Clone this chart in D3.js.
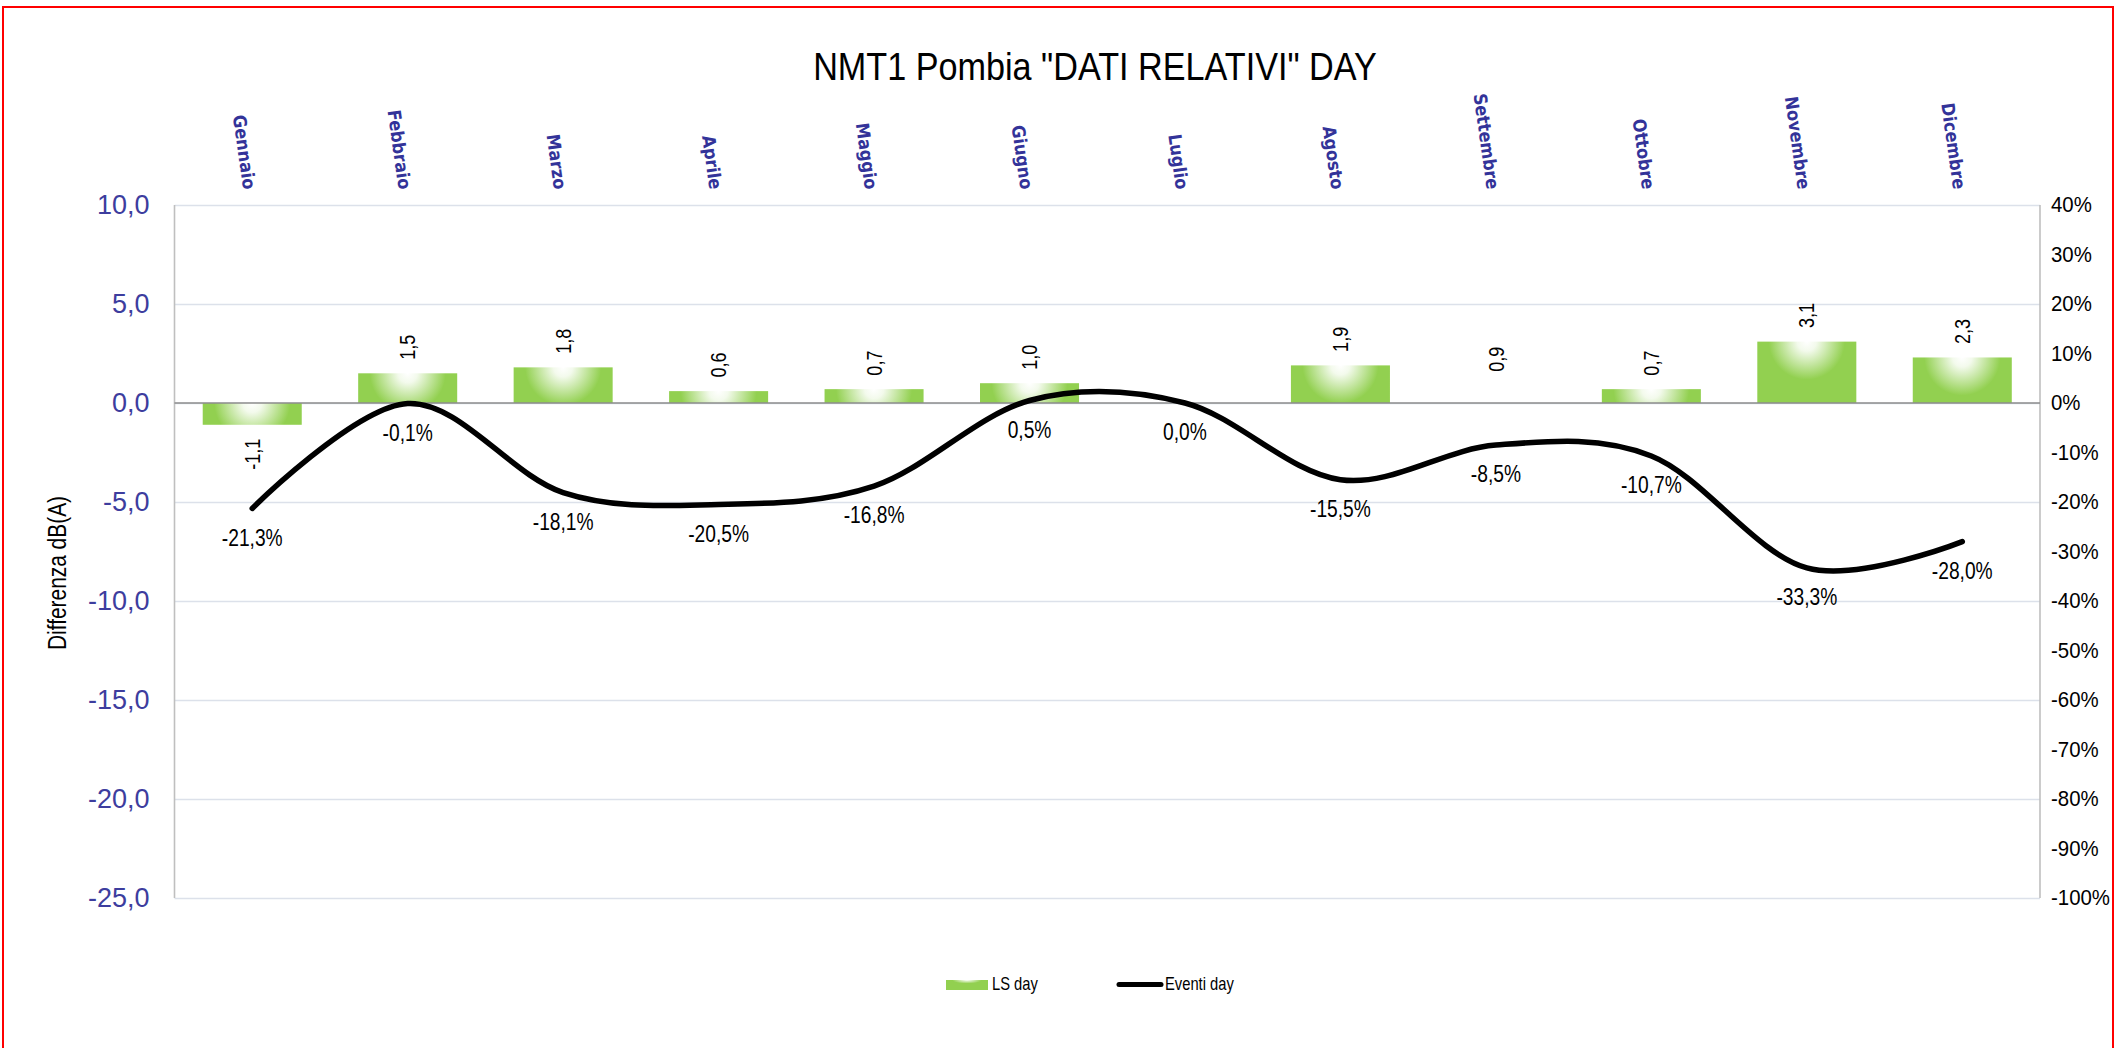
<!DOCTYPE html>
<html>
<head>
<meta charset="utf-8">
<script src="https://cdn.jsdelivr.net/npm/d3@7/dist/d3.min.js"></script>
<style>
  html, body { margin: 0; padding: 0; background: #ffffff; }
  svg { display: block; }
</style>
</head>
<body>
<svg id="chart" width="2116" height="1048"></svg>
<script>
// ---------------- data ----------------
const months = ["Gennaio", "Febbraio", "Marzo", "Aprile", "Maggio", "Giugno",
                "Luglio", "Agosto", "Settembre", "Ottobre", "Novembre", "Dicembre"];
const lsDay = [-1.1, 1.5, 1.8, 0.6, 0.7, 1.0, null, 1.9, 0.9, 0.7, 3.1, 2.3];
const eventiDay = [-21.3, -0.1, -18.1, -20.5, -16.8, 0.5, 0.0, -15.5, -8.5, -10.7, -33.3, -28.0];
const leftTicks = [10, 5, 0, -5, -10, -15, -20, -25];
const rightTicks = [40, 30, 20, 10, 0, -10, -20, -30, -40, -50, -60, -70, -80, -90, -100];
const barsWithoutFill = ["Settembre"]; // label shown, bar not drawn in the original
const titleText = 'NMT1 Pombia "DATI RELATIVI" DAY';
const yAxisTitle = "Differenza dB(A)";
const seriesNames = ["LS day", "Eventi day"];

// ---------------- setup ----------------
const W = 2116, H = 1048;
const plot = { left: 174.5, right: 2040, top: 205, bottom: 898 };
const svg = d3.select("#chart");
const it = d3.formatLocale({ decimal: ",", thousands: ".", grouping: [3], currency: ["€", ""], minus: "-" });
const f1 = it.format(".1f");
const f0 = it.format(".0f");
const SANS = '"Liberation Sans", Arial, sans-serif';
const BOLD = '"DejaVu Sans", Verdana, sans-serif';
const GREEN = "#92D050";
const NX = 0.82; // horizontal condensing of the narrow face

const x = d3.scaleBand().domain(months).range([plot.left, plot.right])
  .paddingInner(0.363).paddingOuter(0.1815);
const yL = d3.scaleLinear().domain([-25, 10]).range([plot.bottom, plot.top]);
const yR = d3.scaleLinear().domain([-100, 40]).range([plot.bottom, plot.top]);
const cx = m => x(m) + x.bandwidth() / 2;

// narrow text helper: places text at (px,py), optional rotation, condensed horizontally
function ntext(parent, px, py, str, opts) {
  const o = Object.assign({ rot: 0, size: 22, anchor: "start", fill: "#000", sx: NX, baseline: null, family: SANS, weight: null }, opts || {});
  const t = parent.append("text")
    .attr("transform", `translate(${px},${py}) rotate(${o.rot}) scale(${o.sx},1)`)
    .attr("text-anchor", o.anchor).attr("font-family", o.family).attr("font-size", o.size)
    .attr("fill", o.fill).text(str);
  if (o.baseline) t.attr("dominant-baseline", o.baseline);
  if (o.weight) t.attr("font-weight", o.weight);
  return t;
}

// outer red frame
svg.append("rect").attr("x", 3).attr("y", 7).attr("width", W - 6).attr("height", H + 10)
  .attr("fill", "none").attr("stroke", "#FF0000").attr("stroke-width", 2);

// title
ntext(svg, 1095, 80, titleText, { size: 38, anchor: "middle", sx: 0.9 });

// gridlines
const grid = svg.append("g").attr("transform", `translate(${plot.left},0)`)
  .call(d3.axisLeft(yL).tickValues(leftTicks).tickSize(-(plot.right - plot.left)).tickFormat(""));
grid.select(".domain").remove();
grid.selectAll("line").attr("stroke", "#DCE1EA").attr("stroke-width", 1.6);

// vertical axis lines
svg.append("line").attr("x1", plot.left).attr("x2", plot.left).attr("y1", plot.top).attr("y2", plot.bottom)
  .attr("stroke", "#BFBFBF").attr("stroke-width", 1.6);
svg.append("line").attr("x1", plot.right).attr("x2", plot.right).attr("y1", plot.top).attr("y2", plot.bottom)
  .attr("stroke", "#BFBFBF").attr("stroke-width", 1.6);

// left axis labels (d3 axis, texts slightly condensed)
const LSX = 1.0;
const axL = svg.append("g").attr("transform", `translate(${plot.left},0)`)
  .call(d3.axisLeft(yL).tickValues(leftTicks).tickSize(0).tickPadding(25).tickFormat(d => f1(d)));
axL.select(".domain").remove();
axL.selectAll("text").attr("font-family", SANS).attr("font-size", 27).attr("fill", "#3D3D9E")
  .attr("x", -25 / LSX).attr("transform", `scale(${LSX},1)`);

// right axis labels
const RSX = 0.95;
const axR = svg.append("g").attr("transform", `translate(${plot.right},0)`)
  .call(d3.axisRight(yR).tickValues(rightTicks).tickSize(0).tickPadding(11).tickFormat(d => f0(d) + "%"));
axR.select(".domain").remove();
axR.selectAll("text").attr("font-family", SANS).attr("font-size", 21.5).attr("fill", "#000")
  .attr("x", 11 / RSX).attr("transform", `scale(${RSX},1)`);

// y axis title
ntext(svg, 66, 573, yAxisTitle, { rot: -90, size: 25.5, anchor: "middle" });

// month labels (top)
const gm = svg.append("g");
months.forEach(m => ntext(gm, cx(m) - 9, 190, m,
  { rot: 82, size: 18, anchor: "end", fill: "#333399", family: BOLD, weight: "bold", sx: 0.9 }));

// bar gradients
const defs = svg.append("defs");
const barData = months.map((m, i) => ({ m, i, v: lsDay[i] })).filter(d => d.v !== null);
barData.forEach(d => {
  const top = Math.min(yL(d.v), yL(0));
  const g = defs.append("radialGradient").attr("id", "g" + d.i)
    .attr("gradientUnits", "userSpaceOnUse")
    .attr("cx", cx(d.m)).attr("cy", top).attr("r", 38)
    .attr("fx", cx(d.m)).attr("fy", top);
  g.append("stop").attr("offset", "0").attr("stop-color", "#FFFFFF");
  g.append("stop").attr("offset", "0.25").attr("stop-color", "#F3FAEC");
  g.append("stop").attr("offset", "1").attr("stop-color", GREEN);
});
const lg = defs.append("radialGradient").attr("id", "glegend")
  .attr("cx", 0.5).attr("cy", 0).attr("r", 0.35);
lg.append("stop").attr("offset", "0").attr("stop-color", "#FFFFFF");
lg.append("stop").attr("offset", "1").attr("stop-color", GREEN);

// bars
svg.append("g").selectAll("rect").data(barData).join("rect")
  .attr("x", d => x(d.m)).attr("width", x.bandwidth())
  .attr("y", d => Math.min(yL(d.v), yL(0)))
  .attr("height", d => Math.abs(yL(d.v) - yL(0)))
  .attr("fill", d => barsWithoutFill.includes(d.m) ? "none" : `url(#g${d.i})`);

// zero line
svg.append("line").attr("x1", plot.left).attr("x2", plot.right).attr("y1", yL(0)).attr("y2", yL(0))
  .attr("stroke", "#8C8C8C").attr("stroke-width", 1.6);

// bar labels
const gb = svg.append("g");
barData.forEach(d => {
  if (d.v >= 0) ntext(gb, cx(d.m), yL(d.v) - 13.5, f1(d.v), { rot: -90, size: 22, anchor: "start", baseline: "central" });
  else ntext(gb, cx(d.m), yL(d.v) + 14, f1(d.v), { rot: -90, size: 22, anchor: "end", baseline: "central" });
});

// smooth line
const lineData = months.map((m, i) => ({ m, p: eventiDay[i] }));
const line = d3.line().x(d => cx(d.m)).y(d => yR(d.p)).curve(d3.curveCatmullRom.alpha(0));
svg.append("path").datum(lineData).attr("d", line)
  .attr("fill", "none").attr("stroke", "#000").attr("stroke-width", 5.5)
  .attr("stroke-linecap", "round").attr("stroke-linejoin", "round");

// line labels
const gl = svg.append("g");
lineData.forEach(d => ntext(gl, cx(d.m), yR(d.p) + 29, f1(d.p) + "%",
  { size: 24, anchor: "middle", baseline: "central", sx: 0.8 }));

// legend
const leg = svg.append("g");
leg.append("rect").attr("x", 946).attr("y", 980).attr("width", 42).attr("height", 10)
  .attr("fill", "url(#glegend)");
ntext(leg, 992, 990, seriesNames[0], { size: 18 });
leg.append("line").attr("x1", 1119).attr("x2", 1161).attr("y1", 984.5).attr("y2", 984.5)
  .attr("stroke", "#000").attr("stroke-width", 5).attr("stroke-linecap", "round");
ntext(leg, 1165, 990, seriesNames[1], { size: 18 });
</script>
</body>
</html>
